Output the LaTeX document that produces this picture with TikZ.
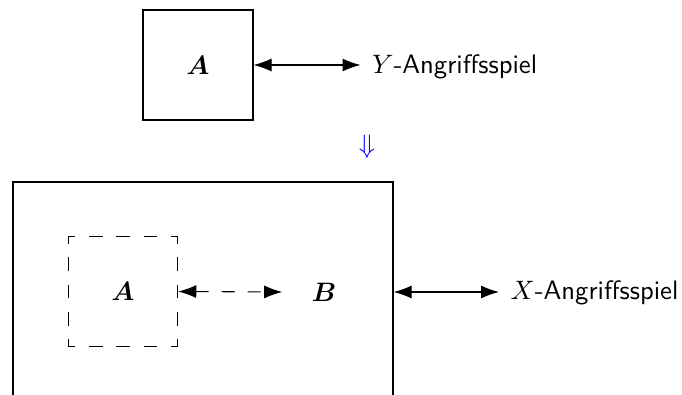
\documentclass[tikz,border=0pt]{standalone}
\usepackage{bm}
\usetikzlibrary{arrows.meta}
\newcommand{\dbl}[1]{\scalebox{2}{#1}}
\begin{document}
\begin{tikzpicture}[x=0.75pt,y=-0.75pt,
  box/.style={draw,line width=0.9pt,minimum size=82.5pt,inner sep=0pt},
  dbox/.style={draw,line width=0.9pt,minimum size=82pt,inner sep=0pt,dash pattern=on 10.25pt off 10.25pt,dash phase=5.125pt},
  bigbox/.style={draw,line width=0.9pt,minimum width=285pt,minimum height=165pt,inner sep=0pt},
  lbl/.style={font=\sffamily,anchor=base west,inner ysep=0pt,inner xsep=8.5pt},
  conn/.style={line width=0.8pt,{Latex[length=13.5pt,width=9.75pt]}-{Latex[length=13.5pt,width=9.75pt]}},
  dconn/.style={conn,dash pattern=on 9.75pt off 9.75pt}
]
\useasboundingbox (0,0) rectangle (682,395);
\clip (0,0) rectangle (682,395);
% top part
\node[box] (topA) at (198,65) {\dbl{$\bm{A}$}};
\node[lbl] (yt) at (360.5,73.5) {\dbl{$Y$-Angriffsspiel}};
\draw[conn] (topA.east) -- (topA.east -| yt.west);
% implication
\node[text=blue] (impl) at (367,147) {\dbl{$\Downarrow$}};
% bottom part
\node[bigbox] (big) at (203,292) {};
\node[dbox] (dA) at (123,291.5) {\dbl{$\bm{A}$}};
\node[inner ysep=0pt,inner xsep=22pt] (B) at (324,292) {\dbl{$\bm{B}$}};
\draw[dconn] (dA.east) -- (B.west);
\node[lbl] (xt) at (499,300) {\dbl{$X$-Angriffsspiel}};
\draw[conn] (big.east) -- (big.east -| xt.west);
\end{tikzpicture}
\end{document}
